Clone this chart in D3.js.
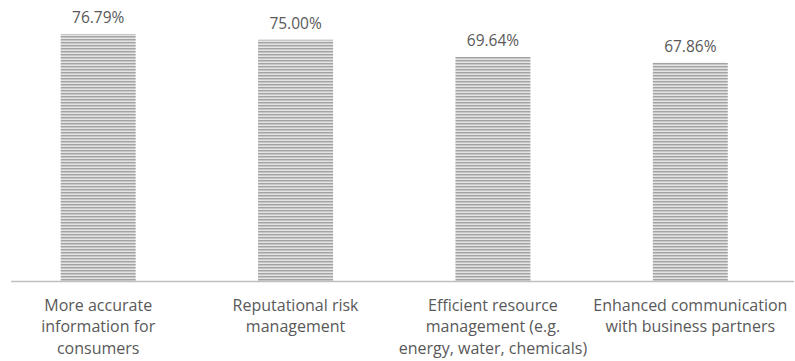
<!DOCTYPE html>
<html>
<head>
<meta charset="utf-8">
<script src="https://cdn.jsdelivr.net/npm/d3@7"></script>
<style>
  html, body { margin: 0; padding: 0; background: #fff; }
  svg { display: block; }
  text { font-family: "Open Sans", Lato, sans-serif; fill: #595959; }
</style>
</head>
<body>
<svg id="chart" width="795" height="361"></svg>
<script>
// Benefits of better data, share of respondents
const categories = [
  "More accurate information for consumers",
  "Reputational risk management",
  "Efficient resource management (e.g. energy, water, chemicals)",
  "Enhanced communication with business partners"
];
const categoryLines = [
  ["More accurate", "information for", "consumers"],
  ["Reputational risk", "management"],
  ["Efficient resource", "management (e.g.", "energy, water, chemicals)"],
  ["Enhanced communication", "with business partners"]
];
const values = [76.79, 75.00, 69.64, 67.86];
const valueLabels = ["76.79%", "75.00%", "69.64%", "67.86%"];

const width = 795, height = 361;
const svg = d3.select("#chart");

// Horizontal stripe fill for the bars
const defs = svg.append("defs");
const pat = defs.append("pattern")
  .attr("id", "stripes")
  .attr("patternUnits", "userSpaceOnUse")
  .attr("width", 6).attr("height", 3);
pat.append("rect").attr("width", 6).attr("height", 3).attr("fill", "#e4e4e4");
pat.append("rect").attr("y", 0).attr("width", 6).attr("height", 1).attr("fill", "#a3a3a3");
pat.append("rect").attr("y", 1).attr("width", 6).attr("height", 1).attr("fill", "#c6c6c6");

const baseline = 281;
const x = d3.scaleBand()
  .domain(categories)
  .range([-0.5, 789])
  .paddingInner(0.62)
  .paddingOuter(0.31);

const y = d3.scaleLinear()
  .domain([0, 100])
  .range([baseline, baseline - 321.7]);

// Bars
svg.append("g").selectAll("rect")
  .data(values)
  .join("rect")
  .attr("x", (d, i) => x(categories[i]))
  .attr("width", x.bandwidth())
  .attr("y", d => y(d))
  .attr("height", d => y(0) - y(d))
  .attr("fill", "url(#stripes)");

// Value labels
svg.append("g").selectAll("text")
  .data(values)
  .join("text")
  .attr("x", (d, i) => x(categories[i]) + x.bandwidth() / 2)
  .attr("y", d => y(d) - 11)
  .attr("text-anchor", "middle")
  .attr("font-size", 15.5)
  .text((d, i) => valueLabels[i]);

// Category axis line
svg.append("line")
  .attr("x1", 11).attr("x2", 794)
  .attr("y1", baseline + 0.5).attr("y2", baseline + 0.5)
  .attr("stroke", "#bfbfbf")
  .attr("stroke-width", 1.3);

// Category labels
const cat = svg.append("g").selectAll("text")
  .data(categories)
  .join("text")
  .attr("text-anchor", "middle")
  .attr("font-size", 16)
  .attr("x", d => x(d) + x.bandwidth() / 2)
  .attr("y", 311);
cat.each(function(d, i) {
  d3.select(this).selectAll("tspan")
    .data(categoryLines[i])
    .join("tspan")
    .attr("x", x(d) + x.bandwidth() / 2)
    .attr("dy", (t, j) => j === 0 ? 0 : 21.3)
    .text(t => t);
});
</script>
</body>
</html>
